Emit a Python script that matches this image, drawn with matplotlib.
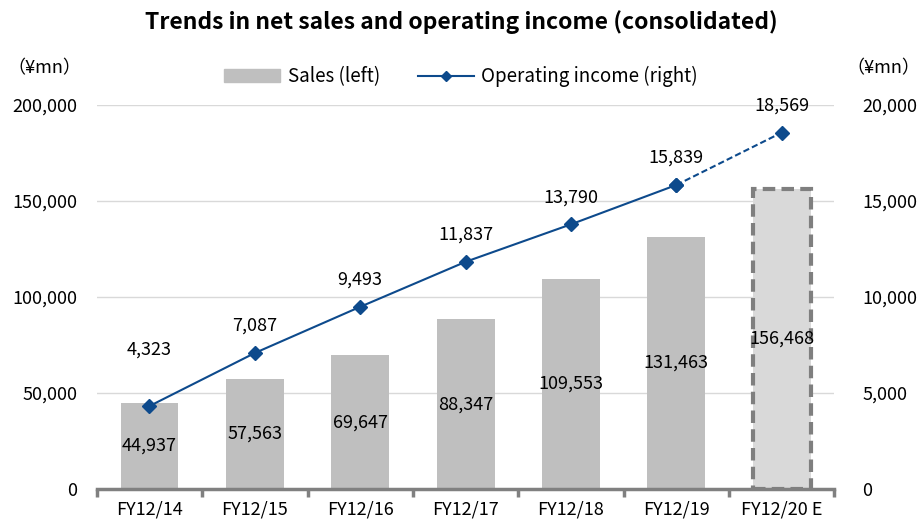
import numpy as np
import matplotlib.pyplot as plt
import matplotlib as mpl
from matplotlib.lines import Line2D
from matplotlib.patches import Patch

mpl.rcParams['font.family'] = ['Noto Sans CJK JP', 'DejaVu Sans']
mpl.rcParams['font.size'] = 13

years = ['FY12/14', 'FY12/15', 'FY12/16', 'FY12/17', 'FY12/18', 'FY12/19', 'FY12/20 E']
sales = [44937, 57563, 69647, 88347, 109553, 131463, 156468]
op_income = [4323, 7087, 9493, 11837, 13790, 15839, 18569]
# label offsets above markers (points); the first one is lifted clear of the bar
label_offset = [34, 13, 13, 13, 13, 13, 13]

bar_color = '#bfbfbf'
est_color = '#d9d9d9'
line_color = '#0d4a8c'

fig = plt.figure(figsize=(9.22, 5.23), dpi=100)
ax1 = fig.add_axes([0.105, 0.065, 0.80, 0.734])
x = np.arange(len(years))

# actual years as solid bars, forecast as dashed outline
ax1.bar(x[:-1], sales[:-1], width=0.55, color=bar_color, zorder=2)
ax1.bar(x[-1], sales[-1], width=0.55, color=est_color, edgecolor='#7f7f7f',
        linewidth=3, linestyle=(0, (3, 1.5)), zorder=2)
for xi, v in zip(x, sales):
    ax1.text(xi, v / 2, f'{v:,}', ha='center', va='center', fontsize=13, zorder=5)

ax1.set_ylim(0, 200000)
ax1.set_xlim(-0.5, len(years) - 0.5)
ax1.set_yticks(np.arange(0, 200001, 50000))
ax1.yaxis.set_major_formatter(mpl.ticker.FuncFormatter(lambda v, p: f'{int(v):,}'))
ax1.grid(axis='y', color='#d9d9d9', linewidth=1, zorder=0)
ax1.set_axisbelow(True)
for s in ['top', 'right', 'left']:
    ax1.spines[s].set_visible(False)
ax1.spines['bottom'].set_color('#808080')
ax1.spines['bottom'].set_linewidth(2.5)
ax1.tick_params(axis='y', length=0, pad=14, labelsize=13)
ax1.set_xticks(x)
ax1.set_xticklabels(years)
ax1.tick_params(axis='x', length=0, pad=8, labelsize=13)
ax1.set_xticks(np.arange(-0.5, len(years), 1), minor=True)
ax1.tick_params(axis='x', which='minor', length=6, width=2.5, color='#808080')

ax2 = ax1.twinx()
ax2.set_ylim(0, 20000)
ax2.set_yticks(np.arange(0, 20001, 5000))
ax2.yaxis.set_major_formatter(mpl.ticker.FuncFormatter(lambda v, p: f'{int(v):,}'))
for s in ax2.spines.values():
    s.set_visible(False)
ax2.tick_params(axis='y', length=0, pad=20, labelsize=13)

ax2.plot(x[:-1], op_income[:-1], color=line_color, linewidth=1.5,
         marker='D', markersize=7, zorder=4)
ax2.plot(x[-2:], op_income[-2:], color=line_color, linewidth=1.5,
         linestyle=(0, (3, 1.5)), marker='D', markersize=7, zorder=4)
for xi, v, off in zip(x, op_income, label_offset):
    ax2.annotate(f'{v:,}', (xi, v), xytext=(0, off), textcoords='offset points',
                 ha='center', va='bottom', fontsize=13)

fig.text(0.5, 0.958, 'Trends in net sales and operating income (consolidated)',
         ha='center', va='center', fontsize=16.5, fontweight='bold')
fig.text(0.008, 0.87, '（¥mn）', ha='left', va='center', fontsize=13)
fig.text(0.998, 0.87, '（¥mn）', ha='right', va='center', fontsize=13)

handles = [Patch(color=bar_color, label='Sales (left)'),
           Line2D([], [], color=line_color, marker='D', markersize=5, linewidth=1.5,
                  label='Operating income (right)')]
fig.legend(handles=handles, loc='center', bbox_to_anchor=(0.5, 0.853), ncol=2,
           frameon=False, fontsize=13.5, handlelength=3, columnspacing=2,
           handletextpad=0.4)

fig.savefig('out.png', dpi=100)
